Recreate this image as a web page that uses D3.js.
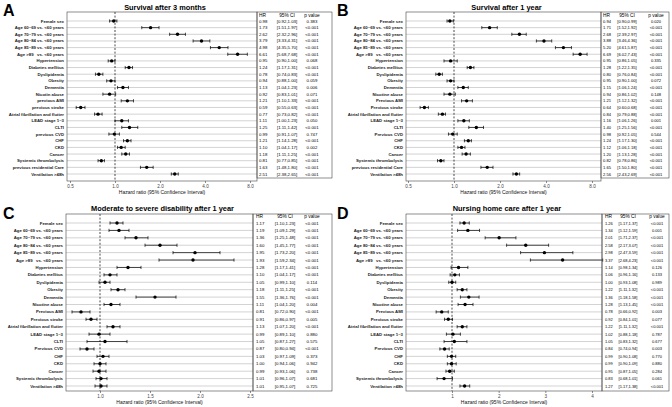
<!DOCTYPE html>
<html><head><meta charset="utf-8">
<script src="https://cdn.jsdelivr.net/npm/d3@7"></script>
<style>
body{margin:0;background:#fff}
svg{font-family:"Liberation Sans",Arial,Helvetica,sans-serif}
</style>
</head><body>
<svg id="c" width="672" height="407"></svg>
<script>
// ---------------- DATA ----------------
const labelsA = ["Female sex","Age 60–69 vs. <60 years","Age 70–79 vs. <60 years","Age 80–84 vs. <60 years","Age 85–89 vs. <60 years","Age >89   vs. <60 years","Hypertension","Diabetes mellitus","Dyslipidemia","Obesity","Dementia","Nicotin abuse","previous AMI","previous stroke","Atrial fibrillation and flutter","LEAD stage 1–3","CLTI","previous CVD","CHF","CKD","Cancer","Systemic thrombolysis","previous residential Care","Ventilation >48h"];
const hrA = [0.98,1.73,2.62,3.79,4.98,6.61,0.95,1.24,0.78,0.94,1.13,0.92,1.21,0.59,0.77,1.11,1.25,0.99,1.21,1.10,1.18,0.81,1.63,2.51];
const loA = [0.92,1.51,2.32,3.33,4.35,5.68,0.90,1.17,0.74,0.88,1.04,0.83,1.10,0.55,0.73,1.00,1.11,0.91,1.14,1.04,1.11,0.77,1.48,2.38];
const hiA = [1.03,1.97,2.96,4.31,5.70,7.68,1.00,1.31,0.83,1.00,1.23,1.01,1.33,0.63,0.82,1.23,1.42,1.07,1.28,1.17,1.25,0.85,1.80,2.65];
const pA  = ["0.383","<0.001","<0.001","<0.001","<0.001","<0.001","0.068","<0.001","<0.001","0.059","0.006","0.071","<0.001","<0.001","<0.001","0.050","<0.001","0.747","<0.001","0.002","<0.001","<0.001","<0.001","<0.001"];

const labelsB = ["Female sex","Age 60–69 vs. <60 years","Age 70–79 vs. <60 years","Age 80–84 vs. <60 years","Age 85–89 vs. <60 years","Age >89   vs. <60 years","Hypertension","Diabetes mellitus","Dyslipidemia","Obesity","Dementia","Nicotine abuse","Previous AMI","Previous stroke","Atrial fibrillation and flutter","LEAD stage 1–3","CLTI","Previous CVD","CHF","CKD","Cancer","Systemic thrombolysis","previous residential Care","Ventilation >48h"];
const hrB = [0.94,1.71,2.68,3.88,5.20,6.69,0.95,1.28,0.80,0.95,1.15,0.94,1.21,0.64,0.84,1.16,1.40,0.98,1.24,1.12,1.20,0.82,1.65,2.56];
const loB = [0.90,1.52,2.39,3.46,4.61,6.02,0.86,1.22,0.76,0.90,1.06,0.86,1.12,0.60,0.79,1.06,1.25,0.92,1.17,1.06,1.13,0.78,1.50,2.43];
const hiB = [0.99,1.92,2.97,4.36,5.87,7.43,1.05,1.35,0.84,1.00,1.24,1.02,1.32,0.68,0.88,1.26,1.56,1.05,1.30,1.18,1.28,0.86,1.80,2.69];
const pB  = ["0.020","<0.001","<0.001","<0.001","<0.001","<0.001","0.335","<0.001","<0.001","0.072","<0.001","0.148","<0.001","<0.001","<0.001","0.001","<0.001","0.544","<0.001","<0.001","<0.001","<0.001","<0.001","<0.001"];

const labelsCD = ["Female sex","Age 60–69 vs. <60 years","Age 70–79 vs. <60 years","Age 80–84 vs. <60 years","Age 85–89 vs. <60 years","Age >89   vs. <60 years","Hypertension","Diabetes mellitus","Dyslipidemia","Obesity","Dementia","Nicotine abuse","Previous AMI","Previous stroke","Atrial fibrillation and flutter","LEAD stage 1–3","CLTI","Previous CVD","CHF","CKD","Cancer","Systemic thrombolysis","Ventilation >48h"];
const hrC = [1.17,1.19,1.36,1.60,1.95,1.93,1.28,1.10,1.05,1.18,1.55,1.11,0.81,0.91,1.13,0.99,1.05,0.87,1.03,1.00,0.99,1.01,1.01];
const loC = [1.10,1.09,1.25,1.45,1.73,1.59,1.17,1.04,0.99,1.11,1.36,1.04,0.72,0.86,1.07,0.89,0.87,0.80,0.97,0.94,0.93,0.96,0.95];
const hiC = [1.23,1.29,1.48,1.77,2.20,2.34,1.41,1.17,1.10,1.25,1.76,1.20,0.90,0.97,1.20,1.10,1.27,0.94,1.09,1.06,1.06,1.07,1.07];
const pC  = ["<0.001","<0.001","<0.001","<0.001","<0.001","<0.001","<0.001","<0.001","0.114","<0.001","<0.001","0.004","<0.001","0.005","<0.001","0.880","0.575","<0.001","0.373","0.942","0.738","0.681","0.725"];

const hrD = [1.26,1.34,2.01,2.58,2.98,3.37,1.14,1.06,1.00,1.22,1.36,1.28,0.78,0.92,1.22,1.02,1.05,0.84,0.99,0.99,0.95,0.83,1.27];
const loD = [1.17,1.12,1.71,2.17,2.47,2.68,0.98,0.96,0.93,1.11,1.18,1.13,0.66,0.84,1.11,0.88,0.83,0.74,0.90,0.90,0.87,0.68,1.17];
const hiD = [1.37,1.59,2.37,3.07,3.59,4.23,1.34,1.16,1.08,1.32,1.58,1.45,0.92,1.01,1.32,1.18,1.32,0.94,1.08,1.09,1.05,1.01,1.38];
const pD  = ["<0.001","0.001","<0.001","<0.001","<0.001","<0.001","0.126","0.133","0.989","<0.001","<0.001","<0.001","0.003","0.077","<0.001","0.787","0.677","0.003","0.770","0.880","0.284","0.061","<0.001"];

const titles = ["Survival after 3 months","Survival after 1 year","Moderate to severe disability after 1 year","Nursing home care after 1 year"];
const ticksLog = [0.5,1,2,4,8];
const ticksC = [1.0,1.5,2.0,2.5];
const ticksD = [1,2,3,4];
const axisTitle = "Hazard ratio (95% Confidence Interval)";
const tableHeader = ["HR","95% CI","p value"];

// ---------------- LAYOUT ----------------
const panels = [
  {letter:"A", title:titles[0], labels:labelsA, hr:hrA, lo:loA, hi:hiA, p:pA,
   lx:3, ly:16, titleY:10, px0:67, px1:257, tx1:332, top:12, bottom:181, tabBottom:178, row0:21, rowN:174,
   scale:d3.scaleLog().domain([0.5,8]).range([70,250]), ticks:ticksLog, fmt:d3.format(".1f"),
   cHR:259, cCI:287, cP:312, tfs:4.3},
  {letter:"B", title:titles[1], labels:labelsB, hr:hrB, lo:loB, hi:hiB, p:pB,
   lx:337, ly:16, titleY:10, px0:406, px1:601, tx1:669, top:12, bottom:181, tabBottom:178, row0:21, rowN:174,
   scale:d3.scaleLog().domain([0.5,8]).range([408,592]), ticks:ticksLog, fmt:d3.format(".1f"),
   cHR:603, cCI:627, cP:656, tfs:4.1},
  {letter:"C", title:titles[2], labels:labelsCD, hr:hrC, lo:loC, hi:hiC, p:pC,
   lx:3, ly:219, titleY:211, px0:66, px1:253, tx1:332, top:214, bottom:391, tabBottom:391, row0:223, rowN:386,
   scale:d3.scaleLinear().domain([1,2.5]).range([100,250]), ticks:ticksC, fmt:d3.format(".1f"),
   cHR:256, cCI:285, cP:312, tfs:4.3},
  {letter:"D", title:titles[3], labels:labelsCD, hr:hrD, lo:loD, hi:hiD, p:pD,
   lx:337, ly:219, titleY:211, px0:406, px1:602, tx1:669, top:214, bottom:391, tabBottom:391, row0:223, rowN:386,
   scale:d3.scaleLinear().domain([1,4]).range([452,592]), ticks:ticksD, fmt:d3.format("d"),
   cHR:605, cCI:628, cP:657, tfs:4.0}
];

const svg = d3.select("#c");
const f2 = d3.format(".2f");

panels.forEach(P => {
  const g = svg.append("g");
  const x = P.scale;
  const y = d3.scalePoint().domain(d3.range(P.labels.length)).range([P.row0, P.rowN]);

  g.append("text").attr("x", P.lx).attr("y", P.ly)
    .attr("font-size", 16).attr("font-weight", "bold").attr("fill", "#000").text(P.letter);
  g.append("text").attr("x", (P.px0 + P.px1) / 2 + 3).attr("y", P.titleY)
    .attr("text-anchor", "middle").attr("font-size", 7.4).attr("font-weight", "bold").text(P.title);

  // row lines
  g.selectAll(".grid").data(P.labels).enter().append("line")
    .attr("x1", P.px0).attr("x2", P.px1)
    .attr("y1", (d, i) => y(i)).attr("y2", (d, i) => y(i))
    .attr("stroke", "#d3d3d3").attr("stroke-width", 1);

  // reference line at HR = 1
  g.append("line").attr("x1", x(1)).attr("x2", x(1)).attr("y1", P.top).attr("y2", P.bottom)
    .attr("stroke", "#000").attr("stroke-width", 0.7).attr("stroke-dasharray", "2,1.6");

  // error bars
  const eb = g.selectAll(".eb").data(P.hr).enter().append("g");
  eb.append("line").attr("x1", (d, i) => x(P.lo[i])).attr("x2", (d, i) => x(P.hi[i]))
    .attr("y1", (d, i) => y(i)).attr("y2", (d, i) => y(i)).attr("stroke", "#000").attr("stroke-width", 0.7);
  eb.append("line").attr("x1", (d, i) => x(P.lo[i])).attr("x2", (d, i) => x(P.lo[i]))
    .attr("y1", (d, i) => y(i) - 1.6).attr("y2", (d, i) => y(i) + 1.6).attr("stroke", "#000").attr("stroke-width", 0.7);
  eb.append("line").attr("x1", (d, i) => x(P.hi[i])).attr("x2", (d, i) => x(P.hi[i]))
    .attr("y1", (d, i) => y(i) - 1.6).attr("y2", (d, i) => y(i) + 1.6).attr("stroke", "#000").attr("stroke-width", 0.7);
  eb.append("circle").attr("cx", d => x(d)).attr("cy", (d, i) => y(i)).attr("r", 1.7).attr("fill", "#000");

  // labels
  g.selectAll(".lab").data(P.labels).enter().append("text")
    .attr("x", P.px0 - 3).attr("y", (d, i) => y(i) + 1.5)
    .attr("text-anchor", "end").attr("font-size", 4.3).attr("font-weight", "bold")
    .attr("fill", "#222").style("white-space", "pre").text(d => d);

  // plot border
  g.append("rect").attr("x", P.px0).attr("y", P.top).attr("width", P.px1 - P.px0).attr("height", P.bottom - P.top)
    .attr("fill", "none").attr("stroke", "#444").attr("stroke-width", 0.6);

  // axis
  const ax = g.append("g").attr("transform", `translate(0,${P.bottom})`)
    .call(d3.axisBottom(x).tickValues(P.ticks).tickFormat(P.fmt).tickSize(2).tickPadding(1.5));
  ax.select(".domain").remove();
  ax.selectAll("line").attr("stroke", "#444").attr("stroke-width", 0.6);
  ax.selectAll("text").attr("font-size", 4.6).attr("fill", "#444").attr("font-family", null);
  g.append("text").attr("x", (P.px0 + P.px1) / 2).attr("y", P.bottom + 13)
    .attr("text-anchor", "middle").attr("font-size", 5).attr("fill", "#111").text(axisTitle);

  // table
  g.append("rect").attr("x", P.px1).attr("y", P.top).attr("width", P.tx1 - P.px1).attr("height", P.tabBottom - P.top)
    .attr("fill", "none").attr("stroke", "#444").attr("stroke-width", 0.6);
  const hy = P.row0 - (P.rowN - P.row0) / (P.labels.length - 1) * 0.85;
  g.append("text").attr("x", P.cHR).attr("y", hy + 1.5).attr("font-size", 4.8).text(tableHeader[0]);
  g.append("text").attr("x", P.cCI).attr("y", hy + 1.5).attr("font-size", 4.8).attr("text-anchor", "middle").text(tableHeader[1]);
  g.append("text").attr("x", P.cP).attr("y", hy + 1.5).attr("font-size", 4.8).attr("text-anchor", "middle").text(tableHeader[2]);
  const rows = g.selectAll(".tr").data(P.hr).enter().append("g");
  rows.append("text").attr("x", P.cHR).attr("y", (d, i) => y(i) + 1.5).attr("font-size", P.tfs).text(d => f2(d));
  rows.append("text").attr("x", P.cCI).attr("y", (d, i) => y(i) + 1.5).attr("font-size", P.tfs).attr("text-anchor", "middle")
    .text((d, i) => `[${f2(P.lo[i])},${f2(P.hi[i])}]`);
  rows.append("text").attr("x", P.cP).attr("y", (d, i) => y(i) + 1.5).attr("font-size", P.tfs).attr("text-anchor", "middle")
    .text((d, i) => P.p[i]);
});
</script>
</body></html>
